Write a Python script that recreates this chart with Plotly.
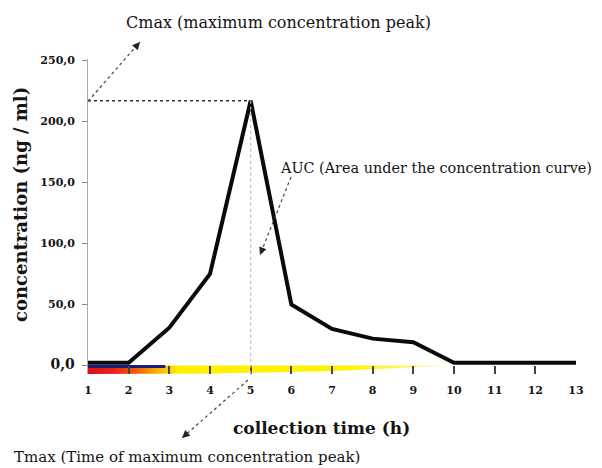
import plotly.graph_objects as go

# ---- data ----
time_h = [1, 2, 3, 4, 5, 6, 7, 8, 9, 10, 11, 12, 13]
concentration = [2.2, 2.2, 31, 75, 217, 50, 30, 22, 19, 2.2, 2.2, 2.2, 2.2]
band_time = [1, 2, 3, 4, 5, 6, 7, 8, 9, 10]
band_depth = [-7, -7, -6.8, -6.5, -6, -5.4, -4.6, -3.2, -1.6, 0]
blue_time = [1, 2.9]
blue_level = [-0.8, -0.8]
ytick_vals = [0, 50, 100, 150, 200, 250]
ytick_text = ["<span style='font-size:14px'>0,0</span>", "50,0", "100,0", "150,0", "200,0", "250,0"]
xtick_vals = time_h
xtick_text = [str(t) for t in time_h]

# ---- layout geometry (page body has an 8px margin; coordinates below are page pixels) ----
OFF = 8
W, H = 602 - OFF, 468 - OFF
ML, MR, MT, MB = 88 - OFF, 26, 59 - OFF, 94
PW, PH = W - ML - MR, H - MT - MB


def pp(px, py):
    px -= OFF
    py -= OFF
    return (px - ML) / PW, (H - MB - py) / PH


FONT = "DejaVu Serif"
INK = "#141414"

cmax = max(concentration)
tmax = time_h[concentration.index(cmax)]

fig = go.Figure()

# colored band under the baseline (red -> yellow)
fig.add_trace(go.Scatter(
    x=band_time, y=band_depth, mode="lines", line=dict(width=0),
    fill="tozeroy",
    fillgradient=dict(type="horizontal",
                      colorscale=[[0, "#d90f1e"], [0.07, "#ea2316"], [0.13, "#f25a0c"],
                                  [0.19, "#f9b000"], [0.25, "#fff000"], [0.72, "#fff200"],
                                  [1, "#fffbd0"]]),
    hoverinfo="skip", showlegend=False))

# blue strip
fig.add_trace(go.Scatter(x=blue_time, y=blue_level, mode="lines",
                         line=dict(color="#1c1c7a", width=3),
                         hoverinfo="skip", showlegend=False))

# concentration curve
fig.add_trace(go.Scatter(x=time_h, y=concentration, mode="lines",
                         line=dict(color="#0a0a0a", width=4),
                         showlegend=False))

# guide lines for Cmax / Tmax
fig.add_shape(type="line", xref="x", yref="y", x0=time_h[0], x1=tmax, y0=cmax, y1=cmax,
              line=dict(color="#333", width=1.5, dash="dot"))
fig.add_shape(type="line", xref="x", yref="y", x0=tmax, x1=tmax, y0=cmax, y1=-7,
              line=dict(color="#bbb", width=1.2, dash="dot"))


def dotted_arrow(tail, head):
    x0, y0 = pp(*tail)
    x1, y1 = pp(*head)
    fig.add_shape(type="line", xref="paper", yref="paper", x0=x0, y0=y0, x1=x1, y1=y1,
                  line=dict(color="#444", width=1.2, dash="dot"))
    dx, dy = tail[0] - head[0], tail[1] - head[1]
    n = (dx * dx + dy * dy) ** 0.5
    fig.add_annotation(xref="paper", yref="paper", x=x1, y=y1, text="",
                       ax=dx / n * 9, ay=dy / n * 9, showarrow=True,
                       arrowhead=2, arrowsize=1.1, arrowwidth=1.4, arrowcolor="#222")


dotted_arrow((88, 366 - cmax * 1.22), (140, 42))
dotted_arrow((291, 177), (260, 255))
dotted_arrow((248, 380), (182, 438))


def label(text, px, py, size, bold=False, xanchor="center", angle=0):
    x, y = pp(px, py)
    fig.add_annotation(xref="paper", yref="paper", x=x, y=y, text=text, showarrow=False,
                       xanchor=xanchor, yanchor="middle", textangle=angle,
                       font=dict(family=FONT, size=size, color=INK,
                                 weight="bold" if bold else "normal"))


label("Cmax (maximum concentration peak)", 278, 23, 16)
label("AUC (Area under the concentration curve)", 278, 168, 14.4, xanchor="left")
label("Tmax (Time of maximum concentration peak)", 12, 457, 15, xanchor="left")
label("collection time (h)", 321, 428, 17, bold=True)
label("concentration (ng / ml)", 20, 205, 18, bold=True, angle=-90)

fig.update_layout(
    width=W, height=H, margin=dict(l=ML, r=MR, t=MT, b=MB),
    paper_bgcolor="white", plot_bgcolor="white",
    xaxis=dict(range=[1, 13], tickvals=xtick_vals, ticktext=xtick_text,
               showgrid=False, zeroline=False, showline=False,
               ticks="inside", ticklen=8, tickwidth=1.5, tickcolor="#444",
               ticklabelstandoff=8,
               tickfont=dict(family=FONT, size=11, color=INK, weight="bold")),
    yaxis=dict(range=[-7, 251.2], tickvals=ytick_vals, ticktext=ytick_text,
               showgrid=False, zeroline=False, showline=True, linecolor="#aaa", linewidth=1,
               ticks="outside", ticklen=5, tickcolor="#888", ticklabelstandoff=5,
               tickfont=dict(family=FONT, size=11, color=INK, weight="bold")),
)

fig.write_html("out.html")
